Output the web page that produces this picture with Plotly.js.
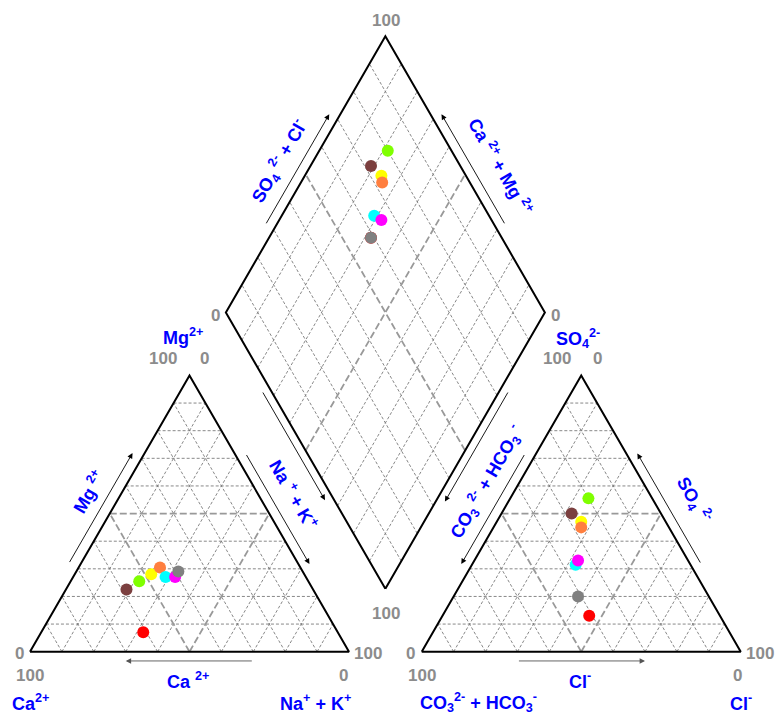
<!DOCTYPE html>
<html>
<head>
<meta charset="utf-8">
<script src="https://cdn.plot.ly/plotly-3.0.1.min.js"></script>
<style>html,body{margin:0;padding:0;background:#fff;}#chart{width:778px;height:715px;}</style>
</head>
<body>
<div id="chart"></div>
<script>
// ---------------- DATA (percent of meq) ----------------
const samples   = ["S1", "S2", "S3", "S4", "S5", "S6", "S7", "S8"];
const colors    = ["#ff0000", "#7b3f3f", "#7fff00", "#ffff00", "#ff7f3f", "#00ffff", "#ff00ff", "#808080"];
// cations
const Ca        = [61, 58.5, 53, 48, 44, 44, 41, 39];
const Mg        = [7, 22.5, 25.5, 28, 30.5, 27, 27, 29];
const NaK       = [32, 19, 21.5, 24, 25.5, 29, 32, 32];
// anions
const HCO3      = [41, 28, 20, 26.5, 27.5, 36, 34.5, 41];
const SO4       = [13, 50, 55.5, 47, 45, 31.5, 33, 20];
const Cl        = [46, 22, 24.5, 26.5, 27.5, 32.5, 32.5, 39];
const gridSteps = [10, 20, 30, 40, 50, 60, 70, 80, 90];

// ---------------- GEOMETRY ----------------
const H = Math.sqrt(3) / 2;
const S = 3.19;            // pixels per unit
const X0 = 30, Y0 = 651.7; // pixel of left triangle bottom-left
const OFF = 122.8;         // x offset of anion triangle
const DB = [(100 + OFF) / 2, (OFF - 100) * H]; // diamond bottom

function triL(a, b) { return [a + b / 2, b * H]; }          // a: bottom-right comp, b: apex comp
function triR(a, b) { return [OFF + a + b / 2, b * H]; }
function dia(nak, hco3) {
  const u = 100 - nak, v = 100 - hco3;
  return [DB[0] - 0.5 * u + 0.5 * v, DB[1] + H * u + H * v];
}
const px = p => (p - X0) / S;
const py = p => (Y0 - p) / S;

// grid lines
function addSeg(arr, p, q) { arr.x.push(p[0], q[0], null); arr.y.push(p[1], q[1], null); }
const thin = {x: [], y: []}, thick = {x: [], y: []};
gridSteps.forEach(k => {
  const tgt = (k === 50) ? thick : thin;
  [triL, triR].forEach(f => {
    addSeg(tgt, f(0, k), f(100 - k, k));
    addSeg(tgt, f(k, 0), f(k, 100 - k));
    addSeg(tgt, f(100 - k, 0), f(0, 100 - k));
  });
  addSeg(tgt, dia(k, 100), dia(k, 0));
  addSeg(tgt, dia(100, k), dia(0, k));
});

// outlines
const outline = {x: [], y: []};
[triL, triR].forEach(f => {
  const pts = [f(0, 0), f(100, 0), f(0, 100), f(0, 0)];
  pts.forEach(p => { outline.x.push(p[0]); outline.y.push(p[1]); });
  outline.x.push(null); outline.y.push(null);
});
[dia(100, 100), dia(0, 100), dia(0, 0), dia(100, 0), dia(100, 100)].forEach(p => { outline.x.push(p[0]); outline.y.push(p[1]); });

const traces = [
  {x: thin.x, y: thin.y, mode: 'lines', line: {color: '#7a7a7a', width: 0.9, dash: '3px,2px'}, hoverinfo: 'skip', showlegend: false},
  {x: thick.x, y: thick.y, mode: 'lines', line: {color: '#999999', width: 1.8, dash: '7px,3px'}, hoverinfo: 'skip', showlegend: false},
  {x: outline.x, y: outline.y, mode: 'lines', line: {color: '#000', width: 2}, hoverinfo: 'skip', showlegend: false}
];

samples.forEach((s, i) => {
  const pc = triL(NaK[i], Mg[i]);
  const pa = triR(Cl[i], SO4[i]);
  const pd = dia(NaK[i], HCO3[i]);
  traces.push({
    x: [pc[0], pa[0], pd[0]], y: [pc[1], pa[1], pd[1]],
    mode: 'markers', name: s, showlegend: false,
    marker: {color: colors[i], size: 12, line: {width: 0}}
  });
});

// ---------------- ANNOTATIONS ----------------
const ann = [];
const FONT = 'Liberation Sans, Arial, sans-serif';
function num(t, x, y) {
  ann.push({x: px(x), y: py(y), xref: 'x', yref: 'y', text: '<b>' + t + '</b>', showarrow: false,
    font: {family: FONT, size: 17, color: '#8c8c8c'}, xanchor: 'center', yanchor: 'middle'});
}
function lab(t, x, y, ang) {
  ann.push({x: px(x), y: py(y), xref: 'x', yref: 'y', text: '<b>' + t + '</b>', showarrow: false,
    textangle: ang || 0, font: {family: FONT, size: 18, color: '#0000ff'}, xanchor: 'center', yanchor: 'middle'});
}
// arrows parallel to sides: p0,p1 side endpoints (data), f0,f1 fractions, offset (units) along normal n
function arrow(p0, p1, f0, f1, off, nrm, col) {
  const a = [p0[0] + (p1[0] - p0[0]) * f0 + nrm[0] * off, p0[1] + (p1[1] - p0[1]) * f0 + nrm[1] * off];
  const b = [p0[0] + (p1[0] - p0[0]) * f1 + nrm[0] * off, p0[1] + (p1[1] - p0[1]) * f1 + nrm[1] * off];
  ann.push({x: b[0], y: b[1], ax: a[0], ay: a[1], xref: 'x', yref: 'y', axref: 'x', ayref: 'y',
    text: '', showarrow: true, arrowhead: 2, arrowsize: 1.2, arrowwidth: 0.9, arrowcolor: col || '#000', standoff: 0, startstandoff: 0});
}
const nUL = [-H, 0.5], nUR = [H, 0.5], nDL = [-H, -0.5], nDR = [H, -0.5], nD = [0, -1];
// left triangle
arrow(triL(0, 0), triL(0, 100), 0.30, 0.70, 3.3, nUL);           // Mg up
arrow(triL(0, 100), triL(100, 0), 0.30, 0.70, 3.0, nUR);         // Na+K down
arrow(triL(100, 0), triL(0, 0), 0.30, 0.70, 2.9, nD, '#555');   // Ca left
// right triangle
arrow(triR(0, 100), triR(0, 0), 0.30, 0.70, 3.0, nUL);           // CO3 down-left
arrow(triR(100, 0), triR(0, 100), 0.30, 0.70, 3.0, nUR);         // SO4 up-left
arrow(triR(0, 0), triR(100, 0), 0.30, 0.70, 2.9, nD, '#555');   // Cl right
// diamond
arrow(dia(0, 100), dia(0, 0), 0.30, 0.70, 3.0, nUL);              // SO4+Cl up
arrow(dia(100, 0), dia(0, 0), 0.30, 0.70, 3.0, nUR);              // Ca+Mg up
arrow(dia(0, 100), dia(100, 100), 0.27, 0.665, 2.5, nDL);         // Na+K down
arrow(dia(100, 0), dia(100, 100), 0.27, 0.67, 2.5, nDR);          // CO3 down

// numbers
num('100', 163, 358); num('0', 204, 358);
num('0', 215, 315);
num('0', 555, 315); num('100', 557, 358); num('0', 597, 358);
num('100', 386, 20); num('100', 386, 613);
num('0', 19, 653); num('100', 368, 653); num('100', 30, 675); num('0', 343, 675);
num('0', 410, 653); num('100', 760, 653); num('100', 422, 675); num('0', 737, 675);

// labels
lab('Mg<sup>2+</sup>', 183, 336);
lab('SO<sub>4</sub><sup>2-</sup>', 578, 338);
lab('Mg <sup>2+</sup>', 88, 492, -60);
lab('Na <sup>+</sup> + K<sup>+</sup>', 294, 494, 60);
lab('Ca <sup>2+</sup>', 188, 680);
lab('Ca<sup>2+</sup>', 30, 702);
lab('Na<sup>+</sup> + K<sup>+</sup>', 315, 702);
lab('CO<sub>3</sub> <sup>2-</sup> + HCO<sub>3</sub> <sup>-</sup>', 486, 482, -60);
lab('SO<sub>4</sub> <sup>2-</sup>', 694, 499, 60);
lab('Cl<sup>-</sup>', 580, 680);
lab('CO<sub>3</sub><sup>2-</sup> + HCO<sub>3</sub><sup>-</sup>', 478, 702);
lab('Cl<sup>-</sup>', 741, 702);
lab('SO<sub>4</sub> <sup>2-</sup> + Cl<sup>-</sup>', 279, 161, -60);
lab('Ca <sup>2+</sup> + Mg <sup>2+</sup>', 501, 166, 60);

const layout = {
  width: 778, height: 715,
  margin: {l: 0, r: 0, t: 0, b: 0, pad: 0},
  paper_bgcolor: '#fff', plot_bgcolor: '#fff',
  xaxis: {range: [px(0), px(778)], visible: false, fixedrange: true},
  yaxis: {range: [py(715), py(0)], visible: false, fixedrange: true},
  annotations: ann,
  showlegend: false
};
Plotly.newPlot('chart', traces, layout, {displayModeBar: false, staticPlot: true});
</script>
</body>
</html>
